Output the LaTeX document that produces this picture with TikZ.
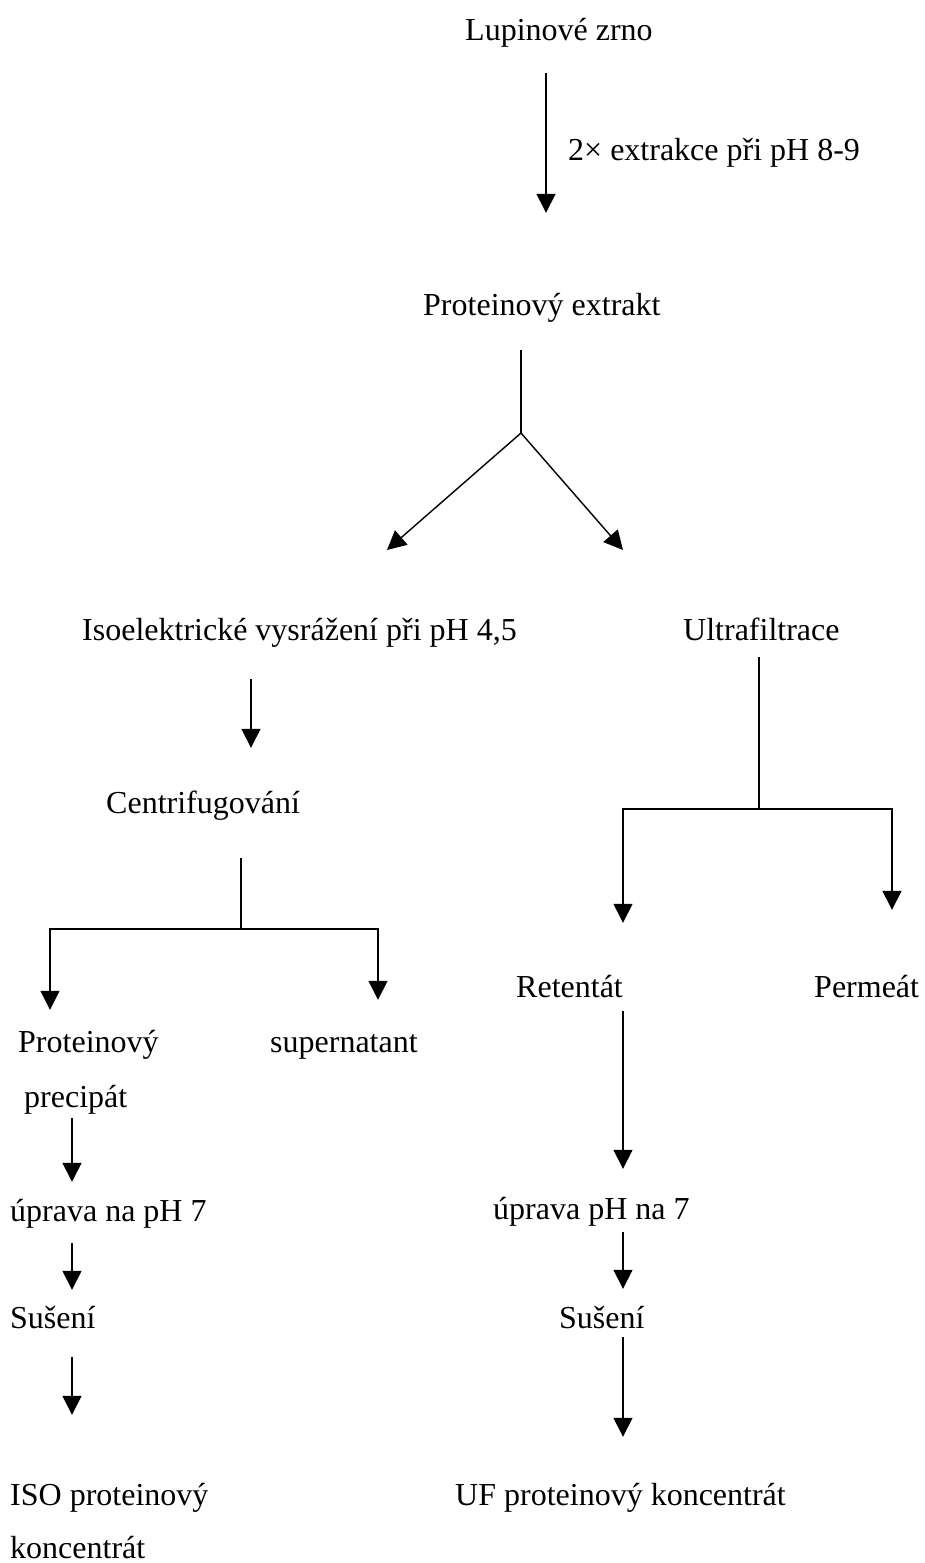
\documentclass[tikz,border=0pt]{standalone}
\usepackage{fontspec}
\setmainfont{Liberation Serif}
\usepackage{tikz}
\usetikzlibrary{arrows.meta,positioning,calc}
\tikzset{
  >={Triangle[length=19pt,width=19pt]},
  txt/.style={inner sep=0pt,anchor=base west,text height=23pt,text depth=7pt,font=\fontsize{32}{38}\selectfont},
  flow/.style={->,line width=1.4pt},
  link/.style={line width=1.4pt},
}

\begin{document}
\begin{tikzpicture}[x=1pt,y=-1pt]
  \useasboundingbox (0,0) rectangle (925,1563);

  % upper part
  \node[txt] (zrno) at (465,41) {Lupinové zrno};
  \node[txt] (krok) at (568,160) {2× extrakce při pH 8-9};
  \node[txt] (extr) at (423,315) {Proteinový extrakt};
  \node[txt] (iso) at (82,640) {Isoelektrické vysrážení při pH 4,5};
  \node[txt] (uf) at (683,640) {Ultrafiltrace};
  \node[txt] (centr) at (106,813) {Centrifugování};

  % lower part
  \node[txt] (prot) at (18,1052) {Proteinový};
  \node[txt] (prec) at (24,1107) {precipát};
  \node[txt] (super) at (270,1052) {supernatant};
  \node[txt] (ret) at (516,997) {Retentát};
  \node[txt] (perm) at (814,997) {Permeát};
  \node[txt] (upr1) at (10,1221) {úprava na pH 7};
  \node[txt] (upr2) at (493,1219) {úprava pH na 7};
  \node[txt] (sus1) at (10,1328) {Sušení};
  \node[txt] (sus2) at (559,1328) {Sušení};
  \node[txt] (isok) at (10,1505) {ISO proteinový};
  \node[txt] (isok2) at (10,1558) {koncentrát};
  \node[txt] (ufk) at (455,1505) {UF proteinový koncentrát};

  % columns and branch points
  \coordinate (c1) at (546,0);
  \coordinate (c2) at (251,0);
  \coordinate (lcol) at (72,0);
  \coordinate (rcol) at (623,0);
  \coordinate (pcol) at (892,0);
  \coordinate (split) at (521,433);
  \coordinate (toiso) at (387,550);
  \coordinate (touf) at (623,550);
  \coordinate (cf) at (241,929);
  \coordinate (uff) at (759,809);

  \draw[flow,shorten <=25pt,shorten >=79pt] (zrno.south -| c1) -- (extr.north -| c1);
  \draw[link,shorten <=28pt] (extr.south -| split) -- (split);
  \draw[flow] (split) -- (toiso);
  \draw[flow] (split) -- (touf);

  % isoelectric branch
  \draw[flow,shorten <=32pt,shorten >=42pt] (iso.south -| c2) -- (centr.north -| c2);
  \draw[link,shorten <=38pt] (centr.south -| cf) -- (cf);
  \draw[flow,shorten >=19pt] (cf) -| (prot.north -| 50,0);
  \draw[flow,shorten >=29pt] (cf) -| (super.north -| 378,0);
  \draw[flow,shorten <=4pt,shorten >=16pt] (prec.south -| lcol) -- (upr1.north -| lcol);
  \draw[flow,shorten <=15pt,shorten >=15pt] (upr1.south -| lcol) -- (sus1.north -| lcol);
  \draw[flow,shorten <=22pt,shorten >=67pt] (sus1.south -| lcol) -- (isok.north -| lcol);

  % ultrafiltration branch
  \draw[link,shorten <=10pt] (uf.south -| uff) -- (uff);
  \draw[flow,shorten >=51pt] (uff) -| (ret.north -| rcol);
  \draw[flow,shorten >=64pt] (uff) -| (perm.north -| pcol);
  \draw[flow,shorten <=7pt,shorten >=27pt] (ret.south -| rcol) -- (upr2.north -| rcol);
  \draw[flow,shorten <=6pt,shorten >=16pt] (upr2.south -| rcol) -- (sus2.north -| rcol);
  \draw[flow,shorten <=2pt,shorten >=45pt] (sus2.south -| rcol) -- (ufk.north -| rcol);
\end{tikzpicture}
\end{document}
